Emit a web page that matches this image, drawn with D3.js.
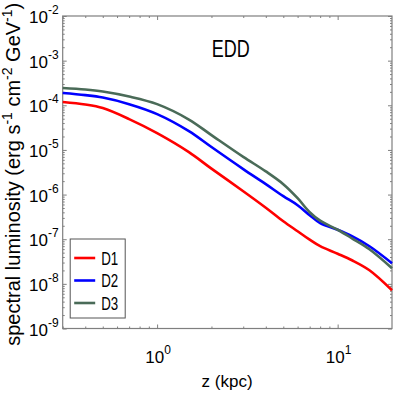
<!DOCTYPE html>
<script src="https://d3js.org/d3.v7.min.js"></script>
<style>
body { margin: 0; background: #fff; }
text { font-family: "Liberation Sans", Arial, sans-serif; fill: #000; }
</style>
<div id="chart"></div>
<script>
// z (kpc) sample points
var zVals = [0.3, 0.4, 0.5, 0.7, 1, 1.5, 2, 3, 4, 5, 6, 7, 8, 10, 12, 15, 20];
// spectral luminosity (erg s^-1 cm^-2 GeV^-1)
var d1 = [1.18e-4, 1.04e-4, 8.65e-5, 4.91e-5, 2.38e-5, 8.93e-6, 3.81e-6, 1.19e-6, 5.08e-7, 2.53e-7, 1.51e-7, 9.75e-8, 6.97e-8, 4.73e-8, 3.38e-8, 2.02e-8, 7.18e-9];
var d2 = [1.88e-4, 1.69e-4, 1.49e-4, 1.06e-4, 6.35e-5, 2.64e-5, 1.16e-5, 3.72e-6, 1.71e-6, 9.21e-7, 5.78e-7, 3.45e-7, 2.29e-7, 1.63e-7, 1.17e-7, 6.97e-8, 2.90e-8];
var d3v = [2.43e-4, 2.25e-4, 2.03e-4, 1.57e-4, 1.06e-4, 4.8e-5, 2.15e-5, 7.0e-6, 3.3e-6, 1.71e-6, 8.3e-7, 4.03e-7, 2.6e-7, 1.63e-7, 1.05e-7, 5.97e-8, 2.24e-8];
var seriesNames = ["D1", "D2", "D3"];
var seriesColors = ["#ff0000", "#0000ff", "#4a6b58"];
var xTickExps = [0, 1];
var yTickExps = [-9, -8, -7, -6, -5, -4, -3, -2];

var margin = {top: 16, right: 1, bottom: 64.5, left: 62.7},
    W = 393, H = 393,
    width = W - margin.left - margin.right,
    height = H - margin.top - margin.bottom;

var svg = d3.select("#chart").append("svg").attr("width", W).attr("height", H)
  .append("g").attr("transform", "translate(" + margin.left + "," + margin.top + ")");

var x = d3.scaleLog().domain([0.3, 20]).range([0, width]);
var y = d3.scaleLog().domain([1e-9, 1e-2]).range([height, 0]);

// minor ticks
var xMinor = [], yMinor = [];
[0.1, 1, 10].forEach(function(b) { for (var k = 2; k <= 9; k++) { var v = b * k; if (v > 0.3 && v < 20) xMinor.push(v); } });
yTickExps.forEach(function(e) { for (var k = 2; k <= 9; k++) { var v = k * Math.pow(10, e); if (v < 1e-2) yMinor.push(v); } });
var xMajor = xTickExps.map(function(e) { return Math.pow(10, e); });
var yMajor = yTickExps.map(function(e) { return Math.pow(10, e); });

function drawAxis(axis, transform) {
  var g = svg.append("g").attr("transform", transform).call(axis);
  g.selectAll("text").remove();
  g.select(".domain").remove();
  g.selectAll("line").attr("stroke", "#7f7f7f");
  return g;
}
drawAxis(d3.axisBottom(x).tickValues(xMajor).tickSize(-4), "translate(0," + height + ")");
drawAxis(d3.axisBottom(x).tickValues(xMinor).tickSize(-2), "translate(0," + height + ")");
drawAxis(d3.axisTop(x).tickValues(xMajor).tickSize(-4), "translate(0,0)");
drawAxis(d3.axisTop(x).tickValues(xMinor).tickSize(-2), "translate(0,0)");
drawAxis(d3.axisLeft(y).tickValues(yMajor).tickSize(-4), "translate(0,0)");
drawAxis(d3.axisLeft(y).tickValues(yMinor).tickSize(-2), "translate(0,0)");
drawAxis(d3.axisRight(y).tickValues(yMajor).tickSize(-4), "translate(" + width + ",0)");
drawAxis(d3.axisRight(y).tickValues(yMinor).tickSize(-2), "translate(" + width + ",0)");

// frame
svg.append("rect").attr("width", width).attr("height", height)
  .attr("fill", "none").attr("stroke", "#7f7f7f").attr("stroke-width", 1.2);

// tick labels with superscripts
yTickExps.forEach(function(e) {
  var t = svg.append("text").attr("x", -4).attr("y", y(Math.pow(10, e)) + 7)
    .attr("text-anchor", "end").style("font-size", "17px");
  t.append("tspan").text("10");
  t.append("tspan").attr("dy", -9).style("font-size", "12px").text(e);
});
xTickExps.forEach(function(e) {
  var t = svg.append("text").attr("x", x(Math.pow(10, e)) + 1).attr("y", height + 34)
    .attr("text-anchor", "middle").style("font-size", "17px");
  t.append("tspan").text("10");
  t.append("tspan").attr("dy", -9).style("font-size", "12px").text(e);
});

// axis titles
svg.append("text").attr("x", x(1) + 70).attr("y", height + 58.5)
  .attr("text-anchor", "middle").style("font-size", "17px").text("z (kpc)");

var yl = svg.append("text").attr("transform", "translate(-42.5," + (height / 2 + 2) + ") rotate(-90)")
  .attr("text-anchor", "middle").style("font-size", "20px");
yl.append("tspan").text("spectral luminosity (erg s");
yl.append("tspan").attr("dy", -8).style("font-size", "14px").text("-1");
yl.append("tspan").attr("dy", 8).text(" cm");
yl.append("tspan").attr("dy", -8).style("font-size", "14px").text("-2");
yl.append("tspan").attr("dy", 8).text(" GeV");
yl.append("tspan").attr("dy", -8).style("font-size", "14px").text("-1");
yl.append("tspan").attr("dy", 8).text(")");

// EDD label
svg.append("text").attr("x", 149).attr("y", 41)
  .attr("textLength", 38).attr("lengthAdjust", "spacingAndGlyphs")
  .style("font-size", "23px").text("EDD");

// curves
var line = d3.line().x(function(d) { return x(d[0]); }).y(function(d) { return y(d[1]); })
  .curve(d3.curveCatmullRom.alpha(0.5));
[d1, d2, d3v].forEach(function(vals, i) {
  svg.append("path").datum(zVals.map(function(z, j) { return [z, vals[j]]; }))
    .attr("fill", "none").attr("stroke", seriesColors[i]).attr("stroke-width", 2.6)
    .attr("d", line);
});

// legend
var lg = svg.append("g").attr("transform", "translate(7.5,223)");
lg.append("rect").attr("width", 55).attr("height", 79)
  .attr("fill", "#fff").attr("stroke", "#555").attr("stroke-width", 1);
seriesNames.forEach(function(n, i) {
  var yy = 19 + i * 22.5;
  lg.append("line").attr("x1", 4).attr("x2", 25).attr("y1", yy).attr("y2", yy)
    .attr("stroke", seriesColors[i]).attr("stroke-width", 2.6);
  lg.append("text").attr("x", 31).attr("y", yy + 6.5)
    .attr("textLength", 17).attr("lengthAdjust", "spacingAndGlyphs")
    .style("font-size", "17.5px").text(n);
});
</script>
